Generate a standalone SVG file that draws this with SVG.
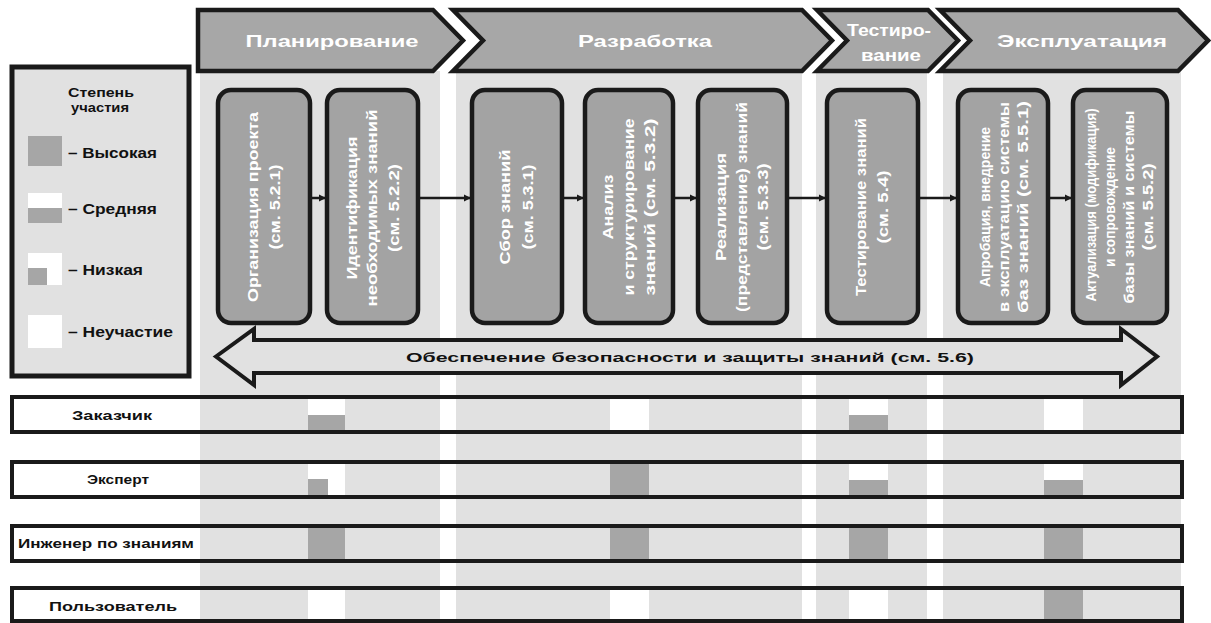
<svg xmlns="http://www.w3.org/2000/svg" width="1211" height="623" viewBox="0 0 1211 623">
<style>
.band{fill:#e1e1e1}
.chev{fill:#a7a7a7;stroke:#1a1a1a;stroke-width:4.5;stroke-linejoin:miter}
.ct{font-family:"Liberation Sans",Arial,sans-serif;font-weight:bold;font-size:17px;fill:#fff;text-anchor:middle}
.box{fill:#a3a3a3;stroke:#1a1a1a;stroke-width:4.5}
.bt{font-family:"Liberation Sans",Arial,sans-serif;font-weight:bold;font-size:14px;fill:#fff;text-anchor:middle}
.row{fill:none;stroke:#1a1a1a;stroke-width:4}
.lt{font-family:"Liberation Sans",Arial,sans-serif;font-weight:bold;font-size:13px;fill:#111;text-anchor:middle}
.lg{font-family:"Liberation Sans",Arial,sans-serif;font-weight:bold;font-size:14px;fill:#111}
.hi{fill:#a6a6a6}
.wh{fill:#fff}
.con{stroke:#1a1a1a;stroke-width:2.5;fill:none}
</style>
<defs>
<marker id="ah" markerUnits="userSpaceOnUse" markerWidth="8" markerHeight="8" refX="7" refY="4" orient="auto">
<path d="M0,0.5 L7,4 L0,7.5 z" fill="#1a1a1a"/>
</marker>
</defs>
<rect width="1211" height="623" fill="#fff"/>
<g id="bands">
<rect class="band" x="200" y="71" width="240" height="552"/>
<rect class="band" x="456" y="71" width="346" height="552"/>
<rect class="band" x="816" y="71" width="111" height="552"/>
<rect class="band" x="943" y="71" width="238" height="552"/>
</g>
<g id="phase-planning">
<polygon class="chev" points="198,10 433,10 463,40.5 433,71 198,71"/>
<text class="ct" x="332" y="47" textLength="173" lengthAdjust="spacingAndGlyphs">Планирование</text>
</g>
<g id="phase-development">
<polygon class="chev" points="453,10 802,10 832,40.5 802,71 453,71 483,40.5"/>
<text class="ct" x="645" y="47" textLength="134" lengthAdjust="spacingAndGlyphs">Разработка</text>
</g>
<g id="phase-testing">
<polygon class="chev" points="817,10 928,10 958,40.5 928,71 817,71 847,40.5"/>
<text class="ct" x="889" y="36" font-size="15" textLength="84" lengthAdjust="spacingAndGlyphs">Тестиро-</text>
<text class="ct" x="891" y="61" font-size="15" textLength="60" lengthAdjust="spacingAndGlyphs">вание</text>
</g>
<g id="phase-operation">
<polygon class="chev" points="940,10 1178,10 1208,40.5 1178,71 940,71 970,40.5"/>
<text class="ct" x="1082" y="47" textLength="170" lengthAdjust="spacingAndGlyphs">Эксплуатация</text>
</g>
<g id="legend">
<rect x="12" y="67" width="177" height="309" fill="#e1e1e1" stroke="#1a1a1a" stroke-width="5"/>
<text class="lt" x="101" y="97" font-size="11" textLength="66" lengthAdjust="spacingAndGlyphs">Степень</text>
<text class="lt" x="100" y="112" font-size="11" textLength="58" lengthAdjust="spacingAndGlyphs">участия</text>
<rect class="hi" x="28" y="136" width="34" height="30"/>
<text class="lg" x="68" y="158" textLength="89" lengthAdjust="spacingAndGlyphs">– Высокая</text>
<rect class="wh" x="28" y="193" width="34" height="30"/>
<rect class="hi" x="28" y="208" width="34" height="15"/>
<text class="lg" x="68" y="214" textLength="89" lengthAdjust="spacingAndGlyphs">– Средняя</text>
<rect class="wh" x="28" y="253" width="34" height="32"/>
<rect class="hi" x="28" y="268" width="19" height="17"/>
<text class="lg" x="68" y="275" textLength="75" lengthAdjust="spacingAndGlyphs">– Низкая</text>
<rect class="wh" x="28" y="315" width="34" height="33"/>
<text class="lg" x="68" y="337" textLength="105" lengthAdjust="spacingAndGlyphs">– Неучастие</text>
</g>
<g id="connectors">
<line class="con" x1="310" y1="198" x2="326" y2="198" marker-end="url(#ah)"/>
<line class="con" x1="418" y1="198" x2="471" y2="198" marker-end="url(#ah)"/>
<line class="con" x1="562" y1="198" x2="584" y2="198" marker-end="url(#ah)"/>
<line class="con" x1="673" y1="198" x2="697" y2="198" marker-end="url(#ah)"/>
<line class="con" x1="787" y1="198" x2="826" y2="198" marker-end="url(#ah)"/>
<line class="con" x1="918" y1="198" x2="957" y2="198" marker-end="url(#ah)"/>
<line class="con" x1="1048" y1="198" x2="1072" y2="198" marker-end="url(#ah)"/>
</g>
<g id="step-1">
<rect class="box" x="218" y="90" width="92" height="233" rx="13"/>
<text class="bt" transform="translate(253,207) rotate(-90)" y="5" textLength="190" lengthAdjust="spacingAndGlyphs">Организация проекта</text>
<text class="bt" transform="translate(275,207) rotate(-90)" y="5" textLength="85" lengthAdjust="spacingAndGlyphs">(см. 5.2.1)</text>
</g>
<g id="step-2">
<rect class="box" x="327" y="90" width="91" height="233" rx="13"/>
<text class="bt" transform="translate(352,208) rotate(-90)" y="5" textLength="143" lengthAdjust="spacingAndGlyphs">Идентификация</text>
<text class="bt" transform="translate(372,208) rotate(-90)" y="5" textLength="197" lengthAdjust="spacingAndGlyphs">необходимых знаний</text>
<text class="bt" transform="translate(394,208) rotate(-90)" y="5" textLength="88" lengthAdjust="spacingAndGlyphs">(см. 5.2.2)</text>
</g>
<g id="step-3">
<rect class="box" x="472" y="90" width="90" height="233" rx="13"/>
<text class="bt" transform="translate(505,207) rotate(-90)" y="5" textLength="115" lengthAdjust="spacingAndGlyphs">Сбор знаний</text>
<text class="bt" transform="translate(528,207) rotate(-90)" y="5" textLength="85" lengthAdjust="spacingAndGlyphs">(см. 5.3.1)</text>
</g>
<g id="step-4">
<rect class="box" x="585" y="90" width="88" height="233" rx="13"/>
<text class="bt" transform="translate(608,207) rotate(-90)" y="5" textLength="65" lengthAdjust="spacingAndGlyphs">Анализ</text>
<text class="bt" transform="translate(629,207) rotate(-90)" y="5" textLength="177" lengthAdjust="spacingAndGlyphs">и структурирование</text>
<text class="bt" transform="translate(650,207) rotate(-90)" y="5" textLength="177" lengthAdjust="spacingAndGlyphs">знаний (см. 5.3.2)</text>
</g>
<g id="step-5">
<rect class="box" x="698" y="90" width="89" height="233" rx="13"/>
<text class="bt" transform="translate(721,207) rotate(-90)" y="5" textLength="108" lengthAdjust="spacingAndGlyphs">Реализация</text>
<text class="bt" transform="translate(742,207) rotate(-90)" y="5" textLength="210" lengthAdjust="spacingAndGlyphs">(представление) знаний</text>
<text class="bt" transform="translate(763,207) rotate(-90)" y="5" textLength="87" lengthAdjust="spacingAndGlyphs">(см. 5.3.3)</text>
</g>
<g id="step-6">
<rect class="box" x="827" y="90" width="91" height="233" rx="13"/>
<text class="bt" transform="translate(861,207) rotate(-90)" y="5" textLength="178" lengthAdjust="spacingAndGlyphs">Тестирование знаний</text>
<text class="bt" transform="translate(883,207) rotate(-90)" y="5" textLength="73" lengthAdjust="spacingAndGlyphs">(см. 5.4)</text>
</g>
<g id="step-7">
<rect class="box" x="958" y="90" width="90" height="233" rx="13"/>
<text class="bt" transform="translate(985,207) rotate(-90)" y="5" textLength="160" lengthAdjust="spacingAndGlyphs">Апробация, внедрение</text>
<text class="bt" transform="translate(1004,207) rotate(-90)" y="5" textLength="210" lengthAdjust="spacingAndGlyphs">в эксплуатацию системы</text>
<text class="bt" transform="translate(1023,207) rotate(-90)" y="5" textLength="212" lengthAdjust="spacingAndGlyphs">баз знаний (см. 5.5.1)</text>
</g>
<g id="step-8">
<rect class="box" x="1073" y="90" width="94" height="233" rx="13"/>
<text class="bt" transform="translate(1091,205) rotate(-90)" y="5" textLength="193" lengthAdjust="spacingAndGlyphs">Актуализация (модификация)</text>
<text class="bt" transform="translate(1110,207) rotate(-90)" y="5" textLength="120" lengthAdjust="spacingAndGlyphs">и сопровождение</text>
<text class="bt" transform="translate(1129,207) rotate(-90)" y="5" textLength="193" lengthAdjust="spacingAndGlyphs">базы знаний и системы</text>
<text class="bt" transform="translate(1148,207) rotate(-90)" y="5" textLength="87" lengthAdjust="spacingAndGlyphs">(см. 5.5.2)</text>
</g>
<g id="security-arrow">
<polygon points="216,356.5 254,329 254,340 1121,340 1121,329 1157,356.5 1121,385 1121,373 254,373 254,385" fill="#e1e1e1" stroke="#1a1a1a" stroke-width="4" stroke-linejoin="miter"/>
<text class="lt" x="690" y="362" textLength="568" lengthAdjust="spacingAndGlyphs">Обеспечение безопасности и защиты знаний (см. 5.6)</text>
</g>
<g id="markers">
<rect class="wh" x="308" y="399" width="37" height="31"/><rect class="hi" x="308" y="415" width="37" height="15"/>
<rect class="wh" x="610" y="399" width="39" height="31"/>
<rect class="wh" x="849" y="399" width="39" height="31"/><rect class="hi" x="849" y="415" width="39" height="15"/>
<rect class="wh" x="1044" y="399" width="39" height="31"/>
<rect class="wh" x="308" y="464" width="37" height="31"/><rect class="hi" x="308" y="479" width="20" height="16"/>
<rect class="hi" x="610" y="464" width="39" height="31"/>
<rect class="wh" x="849" y="464" width="39" height="31"/><rect class="hi" x="849" y="480" width="39" height="15"/>
<rect class="wh" x="1044" y="464" width="39" height="31"/><rect class="hi" x="1044" y="480" width="39" height="15"/>
<rect class="hi" x="308" y="528" width="37" height="31"/>
<rect class="hi" x="610" y="528" width="39" height="31"/>
<rect class="hi" x="849" y="528" width="39" height="31"/>
<rect class="hi" x="1044" y="528" width="39" height="31"/>
<rect class="wh" x="308" y="590" width="37" height="29"/>
<rect class="wh" x="610" y="590" width="39" height="29"/>
<rect class="wh" x="849" y="590" width="39" height="29"/>
<rect class="hi" x="1044" y="590" width="39" height="29"/>
</g>
<g id="role-customer">
<rect class="row" x="12" y="397" width="1170" height="35"/>
<text class="lt" x="112" y="420" textLength="80" lengthAdjust="spacingAndGlyphs">Заказчик</text>
</g>
<g id="role-expert">
<rect class="row" x="12" y="462" width="1170" height="35"/>
<text class="lt" x="118" y="484" textLength="62" lengthAdjust="spacingAndGlyphs">Эксперт</text>
</g>
<g id="role-engineer">
<rect class="row" x="12" y="526" width="1170" height="35"/>
<text class="lt" x="106" y="548" textLength="176" lengthAdjust="spacingAndGlyphs">Инженер по знаниям</text>
</g>
<g id="role-user">
<rect class="row" x="12" y="588" width="1170" height="33"/>
<text class="lt" x="113" y="611" textLength="128" lengthAdjust="spacingAndGlyphs">Пользователь</text>
</g>
</svg>
